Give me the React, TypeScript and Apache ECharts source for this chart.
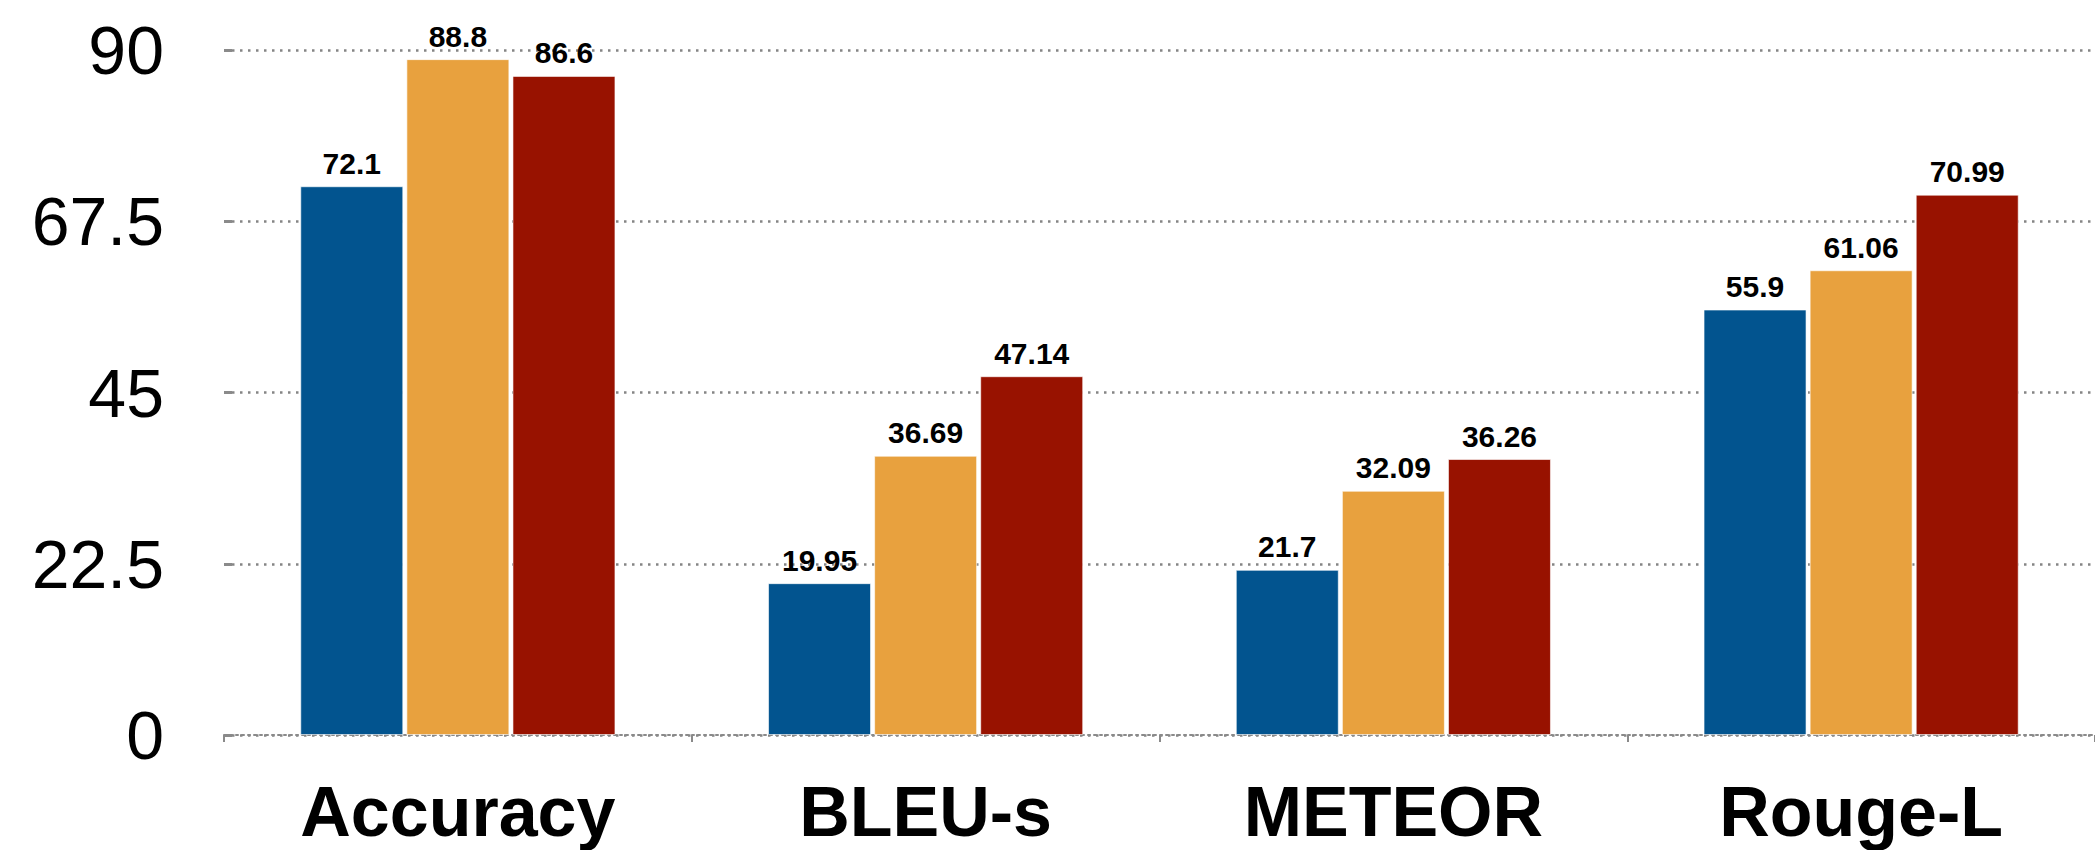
import React, { useEffect, useRef } from "react";
import * as echarts from "echarts";

const categories = ["Accuracy", "BLEU-s", "METEOR", "Rouge-L"];
const seriesA = [72.1, 19.95, 21.7, 55.9];
const seriesB = [88.8, 36.69, 32.09, 61.06];
const seriesC = [86.6, 47.14, 36.26, 70.99];
const seriesNames = ["Model A", "Model B", "Model C"];
const colors = ["#02548F", "#E8A13E", "#981200"];

export default function App() {
  const ref = useRef<HTMLDivElement>(null);
  useEffect(() => {
    if (!ref.current) return;
    const chart = echarts.init(ref.current, undefined, { renderer: "svg" });
    const font = "'Liberation Sans', Arial, sans-serif";
    const values = [seriesA, seriesB, seriesC];
    chart.setOption({
      animation: false,
      textStyle: { fontFamily: font },
      grid: { left: 224, right: -15, top: 50, bottom: 115 },
      xAxis: {
        type: "category",
        data: categories,
        axisLine: { show: true, lineStyle: { color: "#8a8a8a", width: 2, type: [2, 4] } },
        axisTick: { show: true, length: 7, lineStyle: { color: "#8a8a8a", width: 2 } },
        axisLabel: {
          fontSize: 70,
          fontWeight: "bold",
          color: "#000",
          margin: 42,
          fontFamily: font,
        },
      },
      yAxis: {
        type: "value",
        min: 0,
        max: 90,
        interval: 22.5,
        axisLine: { show: false },
        axisTick: { show: true, inside: true, length: 8, lineStyle: { color: "#8a8a8a", width: 3 } },
        splitLine: { show: true, lineStyle: { color: "#858585", width: 2.5, type: [2.5, 5.5] } },
        axisLabel: { fontSize: 68, color: "#000", margin: 60, fontFamily: font },
      },
      series: values.map((v, i) => ({
        name: seriesNames[i],
        type: "bar",
        data: v,
        barWidth: 103,
        barGap: "3%",
        itemStyle: { color: colors[i], borderColor: "rgba(255,255,255,0.6)", borderWidth: 1 },
        label: {
          show: true,
          position: "top",
          distance: 8,
          fontSize: 30,
          fontWeight: "bold",
          color: "#000",
          fontFamily: font,
        },
      })),
    });
    return () => chart.dispose();
  }, []);
  return (
    <div
      ref={ref}
      style={{ position: "fixed", left: 0, top: 0, width: 2095, height: 850, background: "#fff" }}
    />
  );
}
